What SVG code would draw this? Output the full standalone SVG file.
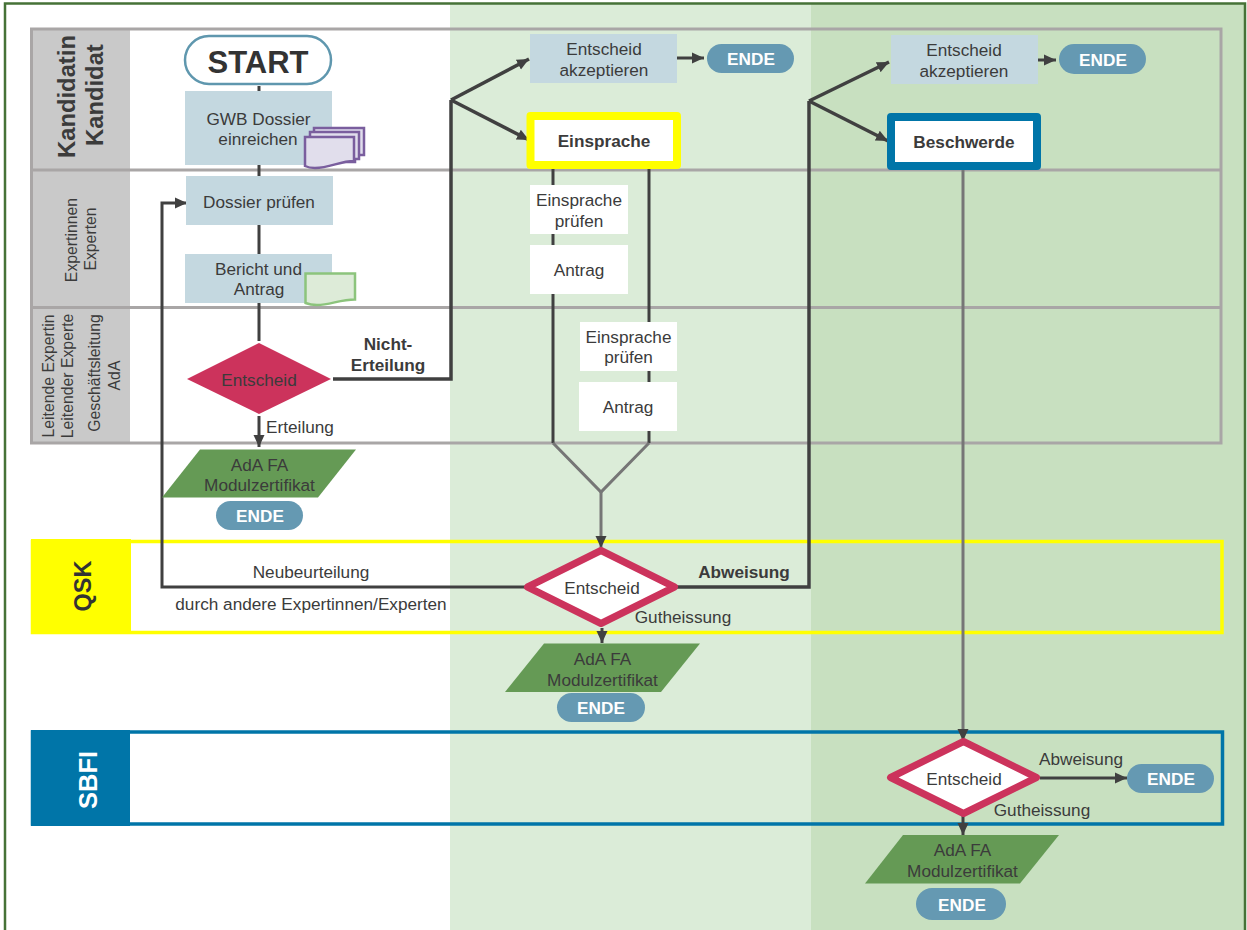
<svg xmlns="http://www.w3.org/2000/svg" width="1247" height="930" viewBox="0 0 1247 930">
<defs>
<style>
text{font-family:"Liberation Sans",Arial,sans-serif;fill:#3b3b3b;font-size:17.2px;text-anchor:middle}
.b{font-weight:bold}
.w{fill:#fff;font-weight:bold}
.box{fill:#C4D8E0}
.wb{fill:#fff}
.end{fill:#6599B2}
.cert{fill:#659A55}
.lane{fill:none;stroke:#A9A6A6;stroke-width:3}
.c{fill:none;stroke:#404040;stroke-width:3}
.c2{fill:none;stroke:#404040;stroke-width:3.5}
.g{fill:none;stroke:#767676;stroke-width:3}
.r{font-size:15.8px}
</style>
<marker id="a" markerUnits="userSpaceOnUse" markerWidth="14" markerHeight="14" refX="12" refY="7" orient="auto"><path d="M0 1.500L12 7L0 12.500Z" fill="#404040"/></marker>
</defs>
<rect x="0" y="0" width="1247" height="930" fill="#fff"/>
<rect x="450" y="3" width="361" height="927" fill="#DBECD8"/>
<rect x="811" y="3" width="434" height="927" fill="#C8E0C0"/>
<path d="M5 930V3.500H1245V930" fill="none" stroke="#467237" stroke-width="2.500"/>

<g id="lanes">
<rect x="31" y="29" width="99" height="414" fill="#C9C9C9"/>
<rect x="31.500" y="29" width="1189.500" height="414" class="lane"/>
<path d="M31 170H1221M31 307.500H1221" class="lane"/>
<text transform="translate(75 158) rotate(-90)" class="b" style="font-size:23.800px;text-anchor:start">Kandidatin</text>
<text transform="translate(103 146) rotate(-90)" class="b" style="font-size:23.800px;text-anchor:start">Kandidat</text>
<text transform="translate(77 240) rotate(-90)" class="r">Expertinnen</text>
<text transform="translate(96 239) rotate(-90)" class="r">Experten</text>
<text transform="translate(53.500 376) rotate(-90)" class="r">Leitende Expertin</text>
<text transform="translate(72.500 376) rotate(-90)" class="r">Leitender Experte</text>
<text transform="translate(100 373) rotate(-90)" class="r">Geschäftsleitung</text>
<text transform="translate(120 375.500) rotate(-90)" class="r">AdA</text>
</g>
<g id="lane-qsk">
<rect x="32.500" y="541.500" width="1189.500" height="91" fill="none" stroke="#FFFF00" stroke-width="3.500"/>
<rect x="31" y="539" width="100" height="95" fill="#FFFF00"/>
<text transform="translate(90.500 586) rotate(-90)" class="b" style="font-size:23.500px;fill:#333">QSK</text>
</g>
<g id="lane-sbfi">
<rect x="32.500" y="732" width="1190" height="92" fill="none" stroke="#0075A8" stroke-width="3.500"/>
<rect x="31" y="730" width="99" height="96" fill="#0075A8"/>
<text transform="translate(96.500 780) rotate(-90)" class="w" style="font-size:25.500px">SBFI</text>
</g>

<g id="connectors">
<path d="M259 86V92M259 164V176M259 224V254M259 303V341" class="c"/>
<path d="M259 416V447" class="c" marker-end="url(#a)"/>
<path d="M333 379H451V100" class="c2"/>
<path d="M451 100L529 59" class="c2" marker-end="url(#a)"/>
<path d="M451 100L529 140" class="c2" marker-end="url(#a)"/>
<path d="M677 58H704" class="c" marker-end="url(#a)"/>
<path d="M553 168V443M649 168V443" class="c"/>
<path d="M553 443L601 492L649 443" class="g"/>
<path d="M601 492V548" class="g" marker-end="url(#a)"/>
<path d="M528 587H162V203H187" class="c" marker-end="url(#a)"/>
<path d="M676 587H809V101" class="c2"/>
<path d="M809 101L889 62" class="c2" marker-end="url(#a)"/>
<path d="M809 101L888 141" class="c2" marker-end="url(#a)"/>
<path d="M1038 60H1056" class="c" marker-end="url(#a)"/>
<path d="M963 168V741" class="g" marker-end="url(#a)"/>
<path d="M602 628V643" class="c" marker-end="url(#a)"/>
<path d="M1040 778H1127" class="c" marker-end="url(#a)"/>
<path d="M963 816V835" class="c" marker-end="url(#a)"/>
</g>

<g id="start"><rect x="185" y="36" width="146" height="48" rx="24" fill="#fff" stroke="#5F97AE" stroke-width="2.500"/><text x="258" y="73" class="b" style="font-size:31px;fill:#333">START</text></g>
<g id="gwb"><rect x="185" y="91" width="147" height="74" class="box"/><text x="258.500" y="125">GWB Dossier</text><text x="258" y="145">einreichen</text>
<path d="M314 128H364V155H355V162H314Z" fill="#E1DEEC" stroke="#7A5E9E" stroke-width="2.500"/><path d="M310 132H359V159H310Z" fill="#E1DEEC" stroke="#7A5E9E" stroke-width="2.500"/>
<path d="M305 137H354V161C340 161 330 168 315 168C311 168 307 167 305 166Z" fill="#E1DEEC" stroke="#7A5E9E" stroke-width="2.500"/></g>
<g id="pruefen"><rect x="186" y="176" width="147" height="49" class="box"/><text x="259" y="208">Dossier prüfen</text></g>
<g id="bericht"><rect x="185" y="254" width="147" height="49" class="box"/><text x="258.500" y="275">Bericht und</text><text x="259" y="295">Antrag</text>
<path d="M305.500 273.500H355V299.500C340 299.500 330 305 317 305C312 305 308 304 305.500 303Z" fill="#DDEBD8" stroke="#8CC47C" stroke-width="2.500"/></g>
<g id="entscheid1"><path d="M187 379L259 343L331 379L259 414Z" fill="#CC335C"/><text x="259" y="386">Entscheid</text></g>
<g id="label-erteilung"><text x="300" y="433">Erteilung</text></g>
<g id="label-nicht"><text x="388" y="350" class="b">Nicht-</text><text x="388" y="371" class="b">Erteilung</text></g>
<g id="cert1"><path d="M200 449.500H356L318 497.500H162Z" class="cert"/><text x="259.500" y="471">AdA FA</text><text x="259.500" y="491">Modulzertifikat</text></g>
<g id="ende1"><rect x="216" y="501" width="87" height="29" rx="14.500" class="end"/><text x="260" y="522" class="w">ENDE</text></g>

<g id="akz1"><rect x="530" y="34" width="147" height="49" class="box"/><text x="604" y="55">Entscheid</text><text x="604" y="76">akzeptieren</text></g>
<g id="ende2"><rect x="707" y="44" width="87" height="29" rx="14.500" class="end"/><text x="751" y="65" class="w">ENDE</text></g>
<g id="einsprache"><rect x="530.500" y="116" width="146.500" height="49" fill="#fff" stroke="#FFFF00" stroke-width="8" stroke-linejoin="round"/><text x="604" y="147" class="b">Einsprache</text></g>
<g id="ep1"><rect x="530" y="185" width="98" height="49" class="wb"/><text x="579" y="206">Einsprache</text><text x="579" y="227">prüfen</text></g>
<g id="an1"><rect x="530" y="245" width="98" height="49" class="wb"/><text x="579" y="276">Antrag</text></g>
<g id="ep2"><rect x="580" y="322" width="97" height="49" class="wb"/><text x="628.500" y="343">Einsprache</text><text x="628.500" y="363">prüfen</text></g>
<g id="an2"><rect x="579" y="382" width="98" height="49" class="wb"/><text x="628" y="413">Antrag</text></g>

<g id="label-neu"><text x="311" y="578">Neubeurteilung</text><text x="311" y="610">durch andere Expertinnen/Experten</text></g>
<g id="entscheid2"><path d="M527.500 587L601 550.500L674.500 587L601 623.500Z" fill="#fff" stroke="#CC335C" stroke-width="7" stroke-linejoin="round"/><text x="602" y="594">Entscheid</text></g>
<g id="label-abw"><text x="744" y="578" class="b">Abweisung</text></g>
<g id="label-gut"><text x="683" y="623">Gutheissung</text></g>
<g id="cert2"><path d="M544 643.500H700L661 692H505Z" class="cert"/><text x="602.500" y="665">AdA FA</text><text x="602.500" y="686">Modulzertifikat</text></g>
<g id="ende3"><rect x="557" y="693" width="88" height="29" rx="14.500" class="end"/><text x="601" y="714" class="w">ENDE</text></g>

<g id="akz2"><rect x="891" y="35" width="147" height="49" class="box"/><text x="964" y="56">Entscheid</text><text x="964" y="77">akzeptieren</text></g>
<g id="ende4"><rect x="1059" y="44" width="87" height="30" rx="15" class="end"/><text x="1103" y="66" class="w">ENDE</text></g>
<g id="beschwerde"><rect x="891" y="117" width="146" height="49" fill="#fff" stroke="#0075A8" stroke-width="8" stroke-linejoin="round"/><text x="964" y="148" class="b">Beschwerde</text></g>
<g id="entscheid3"><path d="M890.500 777.500L963.500 741.500L1036.500 777.500L963.500 813.500Z" fill="#fff" stroke="#CC335C" stroke-width="7" stroke-linejoin="round"/><text x="964" y="785">Entscheid</text></g>
<g id="label-abw2"><text x="1081" y="765">Abweisung</text></g>
<g id="label-gut2"><text x="1042" y="816">Gutheissung</text></g>
<g id="ende5"><rect x="1127" y="764" width="87" height="29" rx="14.500" class="end"/><text x="1171" y="785" class="w">ENDE</text></g>
<g id="cert3"><path d="M903 835H1059L1020 883.500H865Z" class="cert"/><text x="962.500" y="856">AdA FA</text><text x="962.500" y="877">Modulzertifikat</text></g>
<g id="ende6"><rect x="916" y="888" width="90" height="32" rx="16" class="end"/><text x="962" y="911" class="w">ENDE</text></g>
</svg>
